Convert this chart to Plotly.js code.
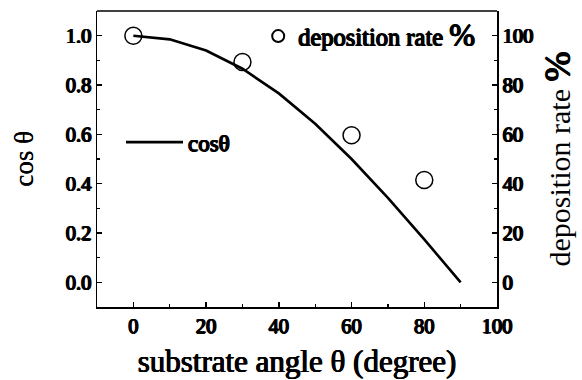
<!DOCTYPE html>
<html>
<head>
<meta charset="utf-8">
<script src="https://cdn.plot.ly/plotly-3.0.1.min.js"></script>
<style>html,body{margin:0;padding:0;background:#fff;}#chart{width:582px;height:380px;}</style>
</head>
<body>
<div id="chart"></div>
<script>
// substrate angle (degree) for the cos θ curve
var angleCurve = [0, 10, 20, 30, 40, 50, 60, 70, 80, 90];
var cosValues = [1.0, 0.985, 0.94, 0.866, 0.766, 0.643, 0.5, 0.342, 0.174, 0.0];
// measured deposition rate (%)
var angleRate = [0, 30, 60, 80];
var rateValues = [100, 89.3, 59.6, 41.5];
var xTicks = [0, 20, 40, 60, 80, 100];
var yTicks = [0.0, 0.2, 0.4, 0.6, 0.8, 1.0];
var y2Ticks = [0, 20, 40, 60, 80, 100];

var serif = 'Liberation Serif';
var heavy = '0.8px 0 0 #000, -0.8px 0 0 #000, 0 0.5px 0 #000, 0 -0.3px 0 #000';
var medium = '0.6px 0 0 #000, -0.5px 0 0 #000, 0 0.3px 0 #000';
var tickFont = {family: serif, size: 20.5, color: '#000', weight: 'normal', shadow: heavy};

var traces = [
  {
    x: angleCurve, y: cosValues, type: 'scatter', mode: 'lines',
    name: 'cosθ', line: {color: '#000', width: 2.6},
    legend: 'legend', xaxis: 'x', yaxis: 'y'
  },
  {
    x: angleRate, y: rateValues, type: 'scatter', mode: 'markers',
    name: 'deposition rate <span style="font-size:31px">%</span>',
    marker: {symbol: 'circle-open', size: 17, color: '#000', line: {color: '#000', width: 1.5}},
    legend: 'legend2', xaxis: 'x', yaxis: 'y2'
  }
];

var axisCommon = {
  showline: true, linecolor: '#000', linewidth: 1.5, mirror: false,
  ticks: 'inside', ticklen: 5, tickwidth: 1.5, tickcolor: '#000',
  showgrid: false, zeroline: false, tickfont: tickFont,
  minor: {ticks: 'inside', ticklen: 3, tickwidth: 1.2, tickcolor: '#000'}
};

var layout = {
  width: 582, height: 380,
  margin: {l: 97, r: 85, t: 11, b: 73},
  paper_bgcolor: '#fff', plot_bgcolor: '#fff',
  showlegend: true,
  xaxis: Object.assign({}, axisCommon, {
    range: [-10, 100], tickvals: xTicks, ticktext: xTicks.map(String),
    minor: {ticks: 'inside', ticklen: 3, tickwidth: 1.2, tickcolor: '#000', dtick: 10, tick0: 0},
    title: {text: 'substrate angle θ (degree)', font: {family: serif, size: 31, color: '#000', shadow: medium}, standoff: 14},
    automargin: false
  }),
  yaxis: Object.assign({}, axisCommon, {
    range: [-0.1, 1.1], tickvals: yTicks, ticktext: yTicks.map(function(v){return v.toFixed(1);}),
    minor: {ticks: 'inside', ticklen: 3, tickwidth: 1.2, tickcolor: '#000', dtick: 0.1, tick0: 0},
    title: {text: 'cos θ', font: {family: serif, size: 27, color: '#000', shadow: '0.3px 0 0 #000'}, standoff: 24},
    automargin: false
  }),
  yaxis2: Object.assign({}, axisCommon, {
    overlaying: 'y', side: 'right', anchor: 'x',
    range: [-10, 110], tickvals: y2Ticks, ticktext: y2Ticks.map(String),
    minor: {ticks: 'inside', ticklen: 3, tickwidth: 1.2, tickcolor: '#000', dtick: 10, tick0: 0},
    title: {text: 'deposition rate <span style="font-size:36px;text-shadow:' + heavy + '">%</span>', font: {family: serif, size: 30, color: '#000'}, standoff: 16},
    automargin: false
  }),
  legend: {
    x: 0.06, y: 0.557, xanchor: 'left', yanchor: 'middle',
    bgcolor: 'rgba(0,0,0,0)', borderwidth: 0, itemwidth: 57,
    font: {family: serif, size: 23, color: '#000', shadow: heavy}
  },
  legend2: {
    x: 0.403, y: 0.915, xanchor: 'left', yanchor: 'middle',
    bgcolor: 'rgba(0,0,0,0)', borderwidth: 0, itemsizing: 'constant',
    font: {family: serif, size: 24.5, color: '#000', shadow: heavy}
  },
  shapes: [
    {type: 'line', xref: 'paper', yref: 'paper', x0: 0, x1: 1, y0: 1, y1: 1, line: {color: '#000', width: 1.5}}
  ]
};

Plotly.newPlot('chart', traces, layout, {displayModeBar: false, staticPlot: true});
</script>
</body>
</html>
